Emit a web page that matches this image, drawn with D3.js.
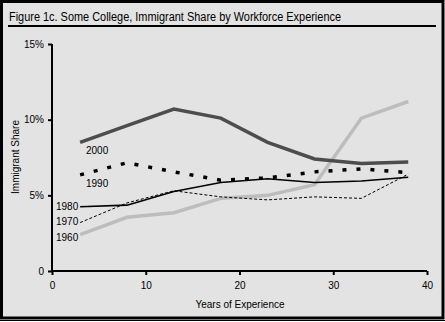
<!DOCTYPE html>
<html><head><meta charset="utf-8">
<script src="https://cdn.jsdelivr.net/npm/d3@7"></script>
<style>body{margin:0;background:#fff}svg{display:block}text{font-family:"Liberation Sans",Arial,sans-serif;fill:#000}</style>
</head><body>
<script>
const years = [3, 8, 13, 18, 23, 28, 33, 38];
const s2000 = [8.5, 9.6, 10.7, 10.1, 8.5, 7.4, 7.1, 7.2];
const s1990 = [6.35, 7.15, 6.55, 6.0, 6.15, 6.55, 6.75, 6.5];
const s1980 = [4.25, 4.35, 5.25, 5.85, 6.1, 5.85, 5.95, 6.2];
const s1970 = [3.2, 4.5, 5.3, 4.9, 4.7, 4.9, 4.8, 6.4];
const s1960 = [2.4, 3.55, 3.85, 4.8, 5.0, 5.7, 10.1, 11.2];
const seriesNames = ["1960", "1970", "1980", "1990", "2000"];
const xTicks = [0, 10, 20, 30, 40];
const yTicks = [0, 5, 10, 15];
const yTickLabels = ["0", "5%", "10%", "15%"];

const W = 445, H = 322;
const svg = d3.select("body").append("svg").attr("width", W).attr("height", H);
svg.append("rect").attr("x", 0).attr("y", 0).attr("width", W).attr("height", H).attr("fill", "#fff");
svg.append("rect").attr("x", 1.5).attr("y", 1.5).attr("width", 441.5).attr("height", 316.5)
  .attr("fill", "#e3e3e3").attr("stroke", "#000").attr("stroke-width", 3);
svg.append("line").attr("x1", 0).attr("x2", W).attr("y1", 320.5).attr("y2", 320.5).attr("stroke", "#000").attr("stroke-width", 1);

svg.append("text").attr("x", 9).attr("y", 21).attr("font-size", 12.5)
  .attr("textLength", 332).attr("lengthAdjust", "spacingAndGlyphs")
  .text("Figure 1c. Some College, Immigrant Share by Workforce Experience");
svg.append("line").attr("x1", 8).attr("x2", 436).attr("y1", 26).attr("y2", 26).attr("stroke", "#000").attr("stroke-width", 2);

const x = d3.scaleLinear().domain([0, 40]).range([52, 427]);
const y = d3.scaleLinear().domain([0, 15]).range([271, 44]);

const gx = svg.append("g").attr("transform", "translate(0,271)")
  .call(d3.axisBottom(x).tickValues(xTicks).tickSize(4).tickPadding(7).tickFormat(d3.format("d")));
const gy = svg.append("g").attr("transform", "translate(52,0)")
  .call(d3.axisLeft(y).tickValues(yTicks).tickSize(4).tickPadding(4).tickFormat((d, i) => yTickLabels[i]));
[gx, gy].forEach(g => {
  g.select(".domain").attr("stroke", "#000").attr("stroke-width", 2);
  g.selectAll(".tick line").attr("stroke", "#000").attr("stroke-width", 2);
  g.selectAll(".tick text").attr("font-size", 10).attr("font-family", "Liberation Sans, Arial, sans-serif").attr("fill", "#000");
});
gx.select(".domain").attr("d", "M52,0H427");
gy.select(".domain").attr("d", "M0,44V271");

svg.append("text").attr("x", 240).attr("y", 308).attr("text-anchor", "middle").attr("font-size", 10).text("Years of Experience");
svg.append("text").attr("transform", "translate(19,157) rotate(-90)").attr("text-anchor", "middle").attr("font-size", 10).text("Immigrant Share");

const line = d3.line().x((d, i) => x(years[i])).y(d => y(d));
const styles = [
  {data: s1960, stroke: "#bdbdbd", w: 3.5, dash: null},
  {data: s1970, stroke: "#000", w: 1, dash: "3,2"},
  {data: s1980, stroke: "#000", w: 1.6, dash: null},
  {data: s1990, stroke: "#000", w: 3.5, dash: "4,10"},
  {data: s2000, stroke: "#4d4d4d", w: 3.5, dash: null}
];
styles.forEach(s => {
  svg.append("path").datum(s.data).attr("d", line).attr("fill", "none")
    .attr("stroke", s.stroke).attr("stroke-width", s.w).attr("stroke-dasharray", s.dash);
});

const labelPos = [
  {name: "1960", x: 56, y: 241},
  {name: "1970", x: 56, y: 225},
  {name: "1980", x: 56, y: 210},
  {name: "1990", x: 86, y: 187},
  {name: "2000", x: 86, y: 154}
];
labelPos.forEach(l => {
  svg.append("text").attr("x", l.x).attr("y", l.y).attr("font-size", 10).text(l.name);
});
</script>
</body></html>
